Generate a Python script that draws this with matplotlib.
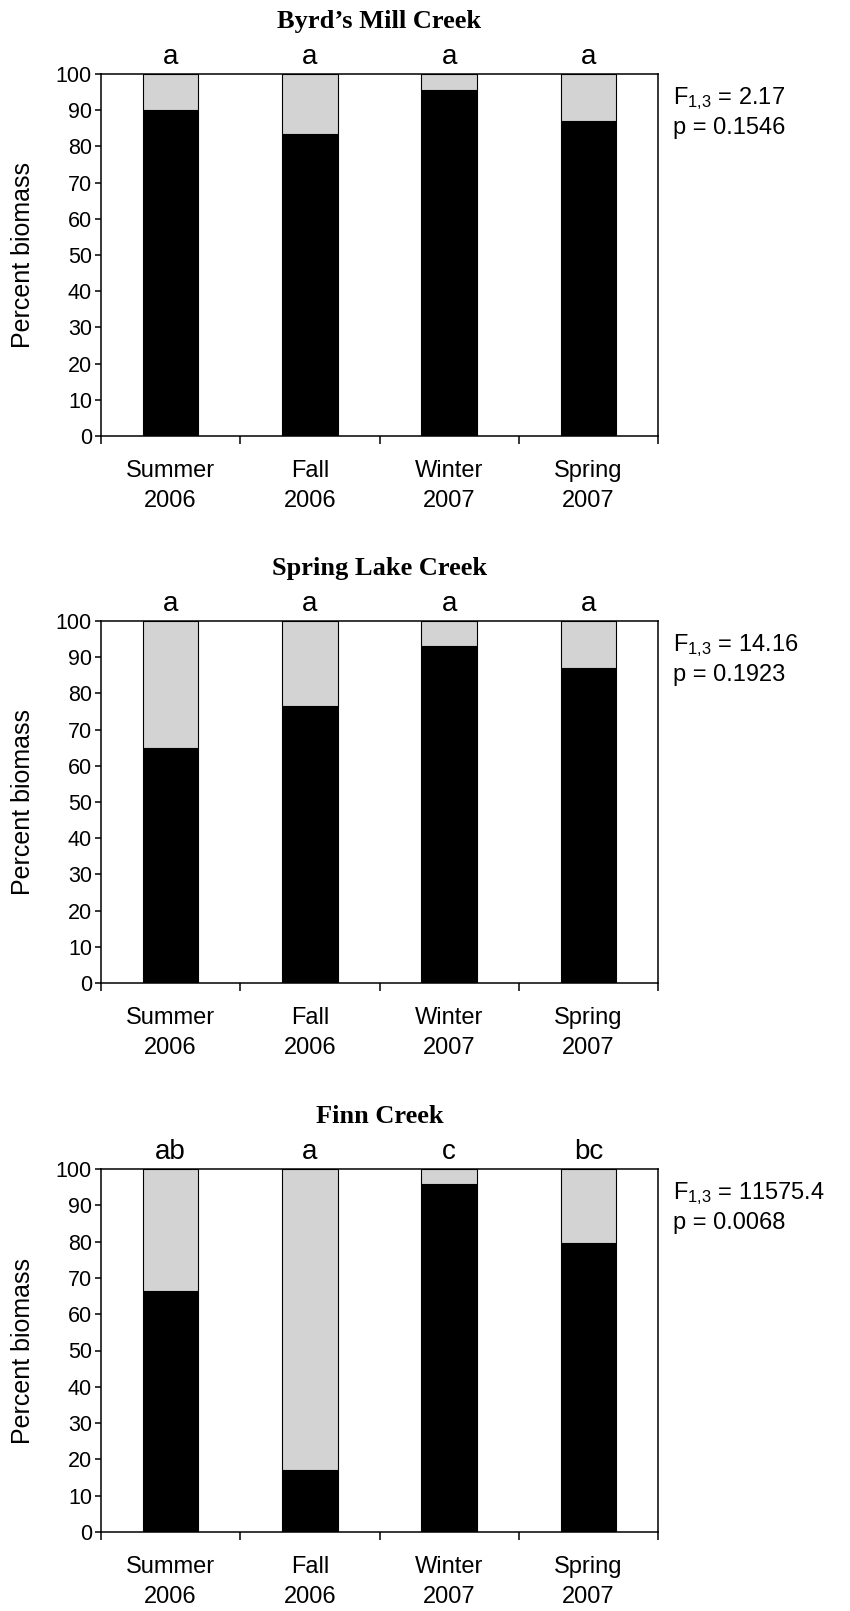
import matplotlib
matplotlib.use("Agg")
import matplotlib.pyplot as plt
import numpy as np

# ---------------- data ----------------
seasons = ["Summer\n2006", "Fall\n2006", "Winter\n2007", "Spring\n2007"]
creeks = ["Byrd\u2019s Mill Creek", "Spring Lake Creek", "Finn Creek"]
byrds_black = [90, 83.5, 95.5, 87]
spring_black = [65, 76.5, 93, 87]
finn_black = [66.5, 17, 96, 79.5]
byrds_letters = ["a", "a", "a", "a"]
spring_letters = ["a", "a", "a", "a"]
finn_letters = ["ab", "a", "c", "bc"]
f_stats = ["2.17", "14.16", "11575.4"]
p_vals = ["0.1546", "0.1923", "0.0068"]
yticks = list(range(0, 101, 10))

blacks = [byrds_black, spring_black, finn_black]
letters = [byrds_letters, spring_letters, finn_letters]

plt.rcParams["font.family"] = ["Liberation Sans", "DejaVu Sans"]
plt.rcParams["mathtext.default"] = "regular"

W, H = 850, 1611
fig = plt.figure(figsize=(W / 100, H / 100), dpi=100)

left_px, right_px = 101, 658
panels_px = [(74, 436), (621, 983), (1169, 1532)]

x = np.arange(1, len(seasons) + 1)
for i, (top, bot) in enumerate(panels_px):
    ax = fig.add_axes([left_px / W, 1 - bot / H, (right_px - left_px) / W, (bot - top) / H])
    blk = np.array(blacks[i], dtype=float)
    gry = 100 - blk
    ax.bar(x, blk, width=0.4, color="black", edgecolor="black", linewidth=0.8, zorder=2)
    ax.bar(x, gry, bottom=blk, width=0.4, color="#d3d3d3", edgecolor="black", linewidth=0.8, zorder=2)
    ax.set_xlim(0.5, len(seasons) + 0.5)
    ax.set_ylim(0, 100)
    ax.set_yticks(yticks)
    ax.tick_params(axis="y", direction="out", length=4.5, width=1.1, labelsize=15.5, pad=2)
    ax.set_xticks(np.arange(0.5, len(seasons) + 1, 1.0))
    ax.set_xticklabels([])
    ax.tick_params(axis="x", which="major", direction="out", length=6, width=1.1)
    ax.set_xticks(x, minor=True)
    ax.set_xticklabels(seasons, minor=True)
    ax.tick_params(axis="x", which="minor", length=0, labelsize=17, pad=17)
    for t in ax.get_xticklabels(minor=True):
        t.set_linespacing(1.5)
    for s in ax.spines.values():
        s.set_linewidth(1.1)
    ax.set_ylabel("Percent biomass", fontsize=18)
    ax.yaxis.set_label_coords(-0.118, 0.5)
    # title
    ax.annotate(creeks[i], xy=(0.5, 1), xycoords="axes fraction", xytext=(0, 33),
                textcoords="offset points", ha="center", va="baseline",
                fontsize=19, fontweight="bold", family=["Liberation Serif", "DejaVu Serif"])
    # significance letters
    for xi, lab in zip(x, letters[i]):
        ax.annotate(lab, xy=(xi, 100), xycoords="data", xytext=(0, 7),
                    textcoords="offset points", ha="center", va="baseline", fontsize=20)
    # statistics
    ax.annotate("F$_{1{,}3}$ = " + f_stats[i], xy=(1, 1), xycoords="axes fraction",
                xytext=(10.5, -22), textcoords="offset points", ha="left", va="baseline", fontsize=17)
    ax.annotate("p = " + p_vals[i], xy=(1, 1), xycoords="axes fraction",
                xytext=(10.5, -43), textcoords="offset points", ha="left", va="baseline", fontsize=17)

fig.savefig("out.png", dpi=100)
